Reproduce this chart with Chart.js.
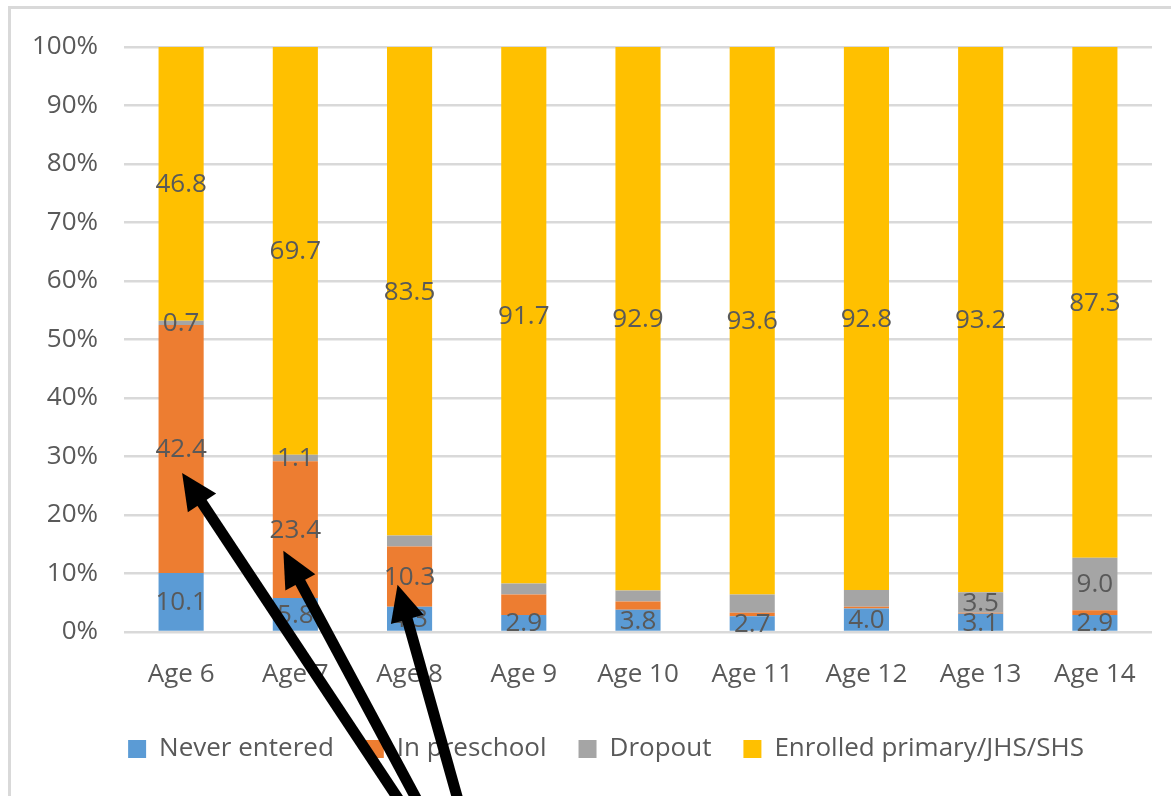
<!DOCTYPE html>
<html>
<head>
<meta charset="utf-8">
<title>School participation by age</title>
<script src="https://cdn.jsdelivr.net/npm/chart.js@4/dist/chart.umd.min.js"></script>
<style>
  html, body { margin: 0; padding: 0; background: #ffffff; }
  #wrap { width: 1171px; height: 796px; position: relative; }
</style>
</head>
<body>
<div id="wrap"><canvas id="chart" width="1171" height="796"></canvas></div>
<script>
// Categories and series (percent of children at each age)
const ages = ["Age 6", "Age 7", "Age 8", "Age 9", "Age 10", "Age 11", "Age 12", "Age 13", "Age 14"];
const neverEntered = [10.1, 5.8, 4.3, 2.9, 3.8, 2.7, 4.0, 3.1, 2.9];
const inPreschool  = [42.4, 23.4, 10.3, 3.5, 1.4, 0.6, 0.3, 0.2, 0.8];
const dropout      = [0.7, 1.1, 1.9, 1.9, 1.9, 3.1, 2.9, 3.5, 9.0];
const enrolled     = [46.8, 69.7, 83.5, 91.7, 92.9, 93.6, 92.8, 93.2, 87.3];

// Which segments carry a value label
const labelNever     = [true, true, true, true, true, true, true, true, true];
const labelPreschool = [true, true, true, false, false, false, false, false, false];
const labelDropout   = [true, true, false, false, false, false, false, true, true];
const labelEnrolled  = [true, true, true, true, true, true, true, true, true];

// Y axis ticks
const yTicks = [0, 10, 20, 30, 40, 50, 60, 70, 80, 90, 100];

const FONT = "'Open Sans', 'Noto Sans', sans-serif";
const TEXT = "#595959";

// Callout arrows: point at a segment's label, tails run off the bottom edge
const callouts = [
  { cat: 0, ds: 1, dx: 1,   dy: 24, tailX: 399, tailY: 800 },
  { cat: 1, ds: 1, dx: -12, dy: 21, tailX: 417, tailY: 800 },
  { cat: 2, ds: 1, dx: -12, dy: 8,  tailX: 458, tailY: 800 }
];

const framePlugin = {
  id: "frame",
  afterLayout(chart) {
    // nudge the legend row to the right
    chart.legend.left += 20;
    chart.legend.right += 20;
  },
  beforeDraw(chart) {
    const ctx = chart.ctx;
    ctx.save();
    ctx.fillStyle = "#ffffff";
    ctx.fillRect(0, 0, chart.width, chart.height);
    ctx.strokeStyle = "#d9d9d9";
    ctx.lineWidth = 3;
    ctx.strokeRect(9.5, 7.5, chart.width + 20, chart.height + 20);
    ctx.restore();
  }
};

const valueLabelPlugin = {
  id: "valueLabels",
  afterDatasetsDraw(chart) {
    const ctx = chart.ctx;
    ctx.save();
    ctx.font = "26px " + FONT;
    ctx.fillStyle = TEXT;
    ctx.textAlign = "center";
    ctx.textBaseline = "middle";
    chart.data.datasets.forEach((ds, di) => {
      const meta = chart.getDatasetMeta(di);
      meta.data.forEach((bar, i) => {
        if (!ds.showLabel[i]) return;
        const y = (bar.y + bar.base) / 2;
        ctx.fillText(ds.data[i].toFixed(1), bar.x, y + 1);
      });
    });
    ctx.restore();
  }
};

const arrowPlugin = {
  id: "callouts",
  afterDraw(chart) {
    const ctx = chart.ctx;
    ctx.save();
    ctx.strokeStyle = "#000000";
    ctx.fillStyle = "#000000";
    callouts.forEach(a => {
      const bar = chart.getDatasetMeta(a.ds).data[a.cat];
      const tipX = bar.x + a.dx;
      const tipY = (bar.y + bar.base) / 2 + a.dy;
      const ang = Math.atan2(tipY - a.tailY, tipX - a.tailX);
      const headLen = 36, headHalf = 17;
      const bx = tipX - Math.cos(ang) * headLen;
      const by = tipY - Math.sin(ang) * headLen;
      ctx.lineWidth = 11;
      ctx.beginPath();
      ctx.moveTo(a.tailX, a.tailY);
      ctx.lineTo(bx + Math.cos(ang) * 4, by + Math.sin(ang) * 4);
      ctx.stroke();
      ctx.beginPath();
      ctx.moveTo(tipX, tipY);
      ctx.lineTo(bx + Math.sin(ang) * headHalf, by - Math.cos(ang) * headHalf);
      ctx.lineTo(bx - Math.sin(ang) * headHalf, by + Math.cos(ang) * headHalf);
      ctx.closePath();
      ctx.fill();
    });
    ctx.restore();
  }
};

function series(label, data, color, showLabel) {
  return {
    label, data, showLabel,
    backgroundColor: color,
    borderWidth: 0,
    barPercentage: 0.395,
    categoryPercentage: 1.0
  };
}

new Chart(document.getElementById("chart"), {
  type: "bar",
  data: {
    labels: ages,
    datasets: [
      series("Never entered", neverEntered, "#5B9BD5", labelNever),
      series("In preschool", inPreschool, "#ED7D31", labelPreschool),
      series("Dropout", dropout, "#A5A5A5", labelDropout),
      series("Enrolled primary/JHS/SHS", enrolled, "#FFC000", labelEnrolled)
    ]
  },
  options: {
    responsive: false,
    animation: false,
    layout: { padding: { left: 20, right: 19, top: 47, bottom: 24 } },
    plugins: {
      legend: {
        position: "bottom",
        labels: {
          boxWidth: 18, boxHeight: 18, padding: 32,
          color: TEXT, font: { family: FONT, size: 26 }
        }
      },
      tooltip: { enabled: false }
    },
    scales: {
      x: {
        stacked: true,
        grid: { display: false, drawTicks: false },
        border: { display: false },
        ticks: { color: TEXT, padding: 27, font: { family: FONT, size: 26 } },
        afterFit(s) { s.height = 72; }
      },
      y: {
        stacked: true,
        min: 0, max: 100,
        afterBuildTicks(s) { s.ticks = yTicks.map(v => ({ value: v })); },
        grid: { color: "#d9d9d9", lineWidth: 2.5, drawTicks: false },
        border: { display: false },
        ticks: { color: TEXT, padding: 26, font: { family: FONT, size: 26 }, callback: v => v + "%" },
        afterFit(s) { s.width = 104; }
      }
    }
  },
  plugins: [framePlugin, valueLabelPlugin, arrowPlugin]
});
</script>
</body>
</html>
